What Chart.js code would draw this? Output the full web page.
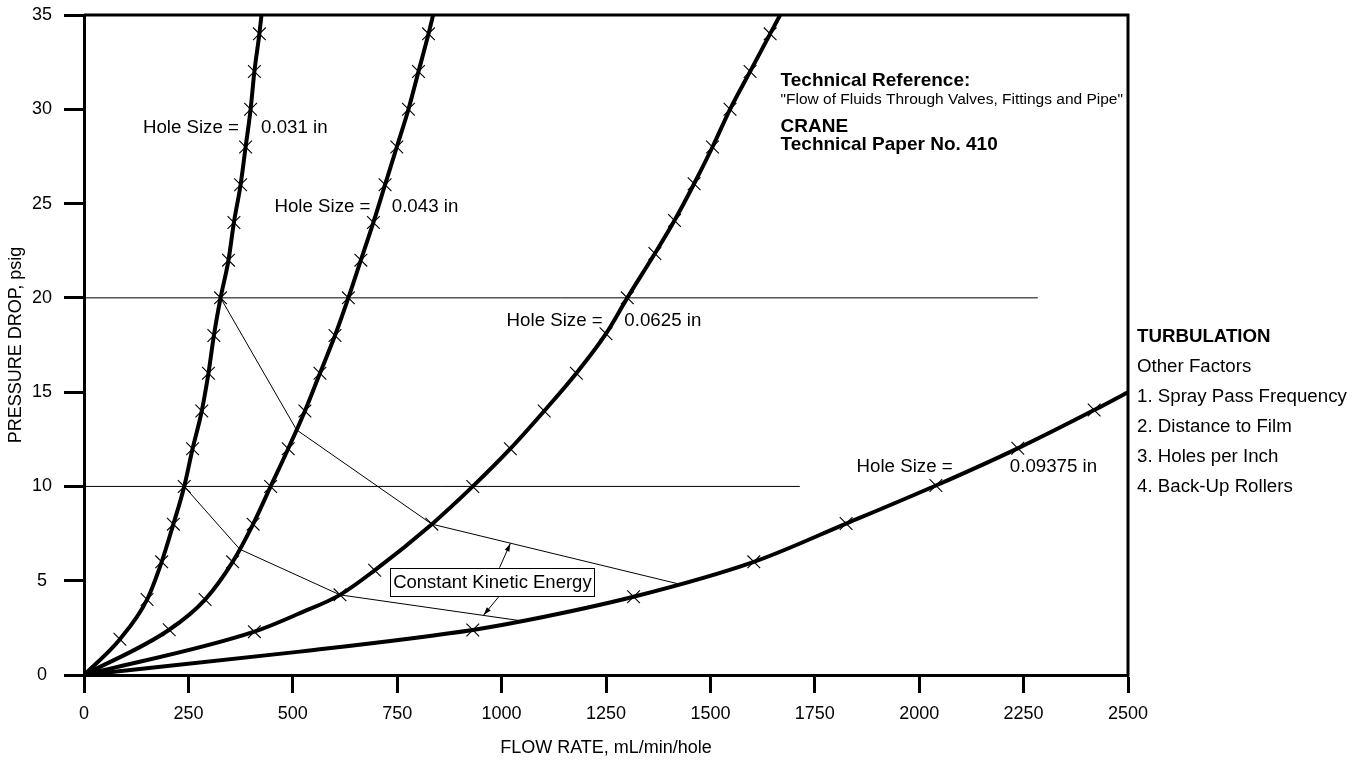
<!DOCTYPE html>
<html><head><meta charset="utf-8">
<script src="https://cdn.jsdelivr.net/npm/chart.js"></script>
<style>html,body{margin:0;padding:0;background:#fff;}canvas{display:block;}</style>
</head><body>
<canvas id="c" width="1364" height="761"></canvas>
<script>
// ---------- data ----------
const xTicks = [0, 250, 500, 750, 1000, 1250, 1500, 1750, 2000, 2250, 2500];
const yTicks = [0, 5, 10, 15, 20, 25, 30, 35];

// Hole size 0.031 in
const flow031 = [0, 86, 151, 186, 214, 240, 260, 282, 298, 311, 327, 346, 359, 375, 387, 399, 408, 420, 425];
const psi031  = [0, 1.9, 4, 6, 8, 10, 12, 14, 16, 18, 20, 22, 24, 26, 28, 30, 32, 34, 35];
const mark031 = [0, 1, 1, 1, 1, 1, 1, 1, 1, 1, 1, 1, 1, 1, 1, 1, 1, 1, 0];

// Hole size 0.043 in
const flow043 = [0, 204, 290, 356, 405, 447, 489, 529, 565, 601, 633, 663, 693, 721, 749, 777, 801, 825, 836];
const psi043  = [0, 2.4, 4, 6, 8, 10, 12, 14, 16, 18, 20, 22, 24, 26, 28, 30, 32, 34, 35];
const mark043 = [0, 1, 1, 1, 1, 1, 1, 1, 1, 1, 1, 1, 1, 1, 1, 1, 1, 1, 0];

// Hole size 0.0625 in
const flow0625 = [0, 408, 517, 613, 696, 833, 931, 1021, 1102, 1179, 1250, 1301, 1367, 1414, 1461, 1505, 1547, 1595, 1643, 1667];
const psi0625  = [0, 2.3, 3.28, 4.25, 5.55, 8, 10, 12, 14, 16, 18.1, 20, 22.35, 24.1, 26.05, 28, 30, 32, 34, 35];
const mark0625 = [0, 1, 0, 1, 1, 1, 1, 1, 1, 1, 1, 1, 1, 1, 1, 1, 1, 1, 1, 0];

// Hole size 0.09375 in
const flow09375 = [0, 517, 931, 1051, 1316, 1604, 1825, 2040, 2236, 2419, 2500];
const psi09375  = [0, 1.24, 2.39, 2.86, 4.15, 6.0, 8.03, 10.05, 12.02, 14.05, 15];
const mark09375 = [0, 0, 1, 0, 1, 1, 1, 1, 1, 1, 0];

// Constant kinetic energy lines
const kinAFlow = [327, 509, 833, 1420];
const kinAPsi  = [20, 13, 8, 4.85];
const kinBFlow = [240, 373, 613, 1051];
const kinBPsi  = [10, 6.67, 4.25, 2.86];

// Horizontal reference lines
const ref20Flow = [0, 2284];
const ref20Psi  = [20, 20];
const ref10Flow = [0, 1714];
const ref10Psi  = [10, 10];

// Texts
const holeSizes = ['0.031 in', '0.043 in', '0.0625 in', '0.09375 in'];
const refTexts = ['Technical Reference:', '"Flow of Fluids Through Valves, Fittings and Pipe"', 'CRANE', 'Technical Paper No. 410'];
const sideTexts = ['TURBULATION', 'Other Factors', '1. Spray Pass Frequency', '2. Distance to Film', '3. Holes per Inch', '4. Back-Up Rollers'];
const kineticLabel = 'Constant Kinetic Energy';

// ---------- layout of annotations (data coordinates) ----------
const holeLabelPos = [
  {x: 141, y: 29.0, x2: 424},
  {x: 456, y: 24.83, x2: 737},
  {x: 1012, y: 18.79, x2: 1294},
  {x: 1850, y: 11.05, x2: 2217}
];
const refPos = {x: 1668, y: [31.52, 30.49, 29.08, 28.1]};
const sideY = [17.92, 16.33, 14.74, 13.15, 11.56, 9.97];
const kinBox = {x: 978, y: 4.93};
const arrowUp = [995, 5.69, 1021, 6.98];
const arrowDown = [995, 4.2, 957, 3.18];

const FAM = '"Liberation Sans", Arial, Helvetica, sans-serif';

function pts(xs, ys) { return xs.map((v, i) => ({x: v, y: ys[i]})); }

function curve(xs, ys, marks) {
  return {
    data: pts(xs, ys),
    borderColor: '#000',
    borderWidth: 4,
    cubicInterpolationMode: 'monotone',
    pointStyle: 'crossRot',
    pointRadius: marks.map(m => m ? 9 : 0),
    pointHoverRadius: 0,
    pointBorderWidth: 1.1,
    pointBorderColor: '#000',
    pointBackgroundColor: 'rgba(0,0,0,0)',
    fill: false
  };
}
function thin(xs, ys) {
  return {
    data: pts(xs, ys),
    borderColor: '#000',
    borderWidth: 1,
    pointRadius: 0,
    tension: 0,
    fill: false
  };
}

const annot = {
  id: 'annot',
  afterDatasetsDraw(chart) {
    const {ctx, chartArea: ca, scales} = chart;
    const xs = scales.x, ys = scales.y;
    const px = v => xs.getPixelForValue(v), py = v => ys.getPixelForValue(v);
    ctx.save();
    // frame (top and right)
    ctx.strokeStyle = '#000';
    ctx.lineWidth = 3;
    ctx.beginPath();
    ctx.moveTo(ca.left, ca.top);
    ctx.lineTo(ca.right, ca.top);
    ctx.lineTo(ca.right, ca.bottom + 1.5);
    ctx.stroke();

    ctx.fillStyle = '#000';
    ctx.textBaseline = 'middle';
    ctx.textAlign = 'left';
    ctx.font = '18.7px ' + FAM;
    holeLabelPos.forEach((p, i) => {
      ctx.fillText('Hole Size =', px(p.x), py(p.y));
      ctx.fillText(holeSizes[i], px(p.x2), py(p.y));
    });

    // reference text
    const refFonts = ['bold 19px ', '15.5px ', 'bold 19px ', 'bold 19px '];
    refTexts.forEach((t, i) => {
      ctx.font = refFonts[i] + FAM;
      ctx.fillText(t, px(refPos.x), py(refPos.y[i]));
    });

    // side text
    sideTexts.forEach((t, i) => {
      ctx.font = (i === 0 ? 'bold 18.7px ' : '18.7px ') + FAM;
      ctx.fillText(t, ca.right + 9, py(sideY[i]));
    });

    // arrows
    function arrow(a) {
      const x0 = px(a[0]), y0 = py(a[1]), x1 = px(a[2]), y1 = py(a[3]);
      ctx.lineWidth = 1;
      ctx.beginPath(); ctx.moveTo(x0, y0); ctx.lineTo(x1, y1); ctx.stroke();
      const ang = Math.atan2(y1 - y0, x1 - x0), L = 8, W = 2.5;
      ctx.beginPath();
      ctx.moveTo(x1, y1);
      ctx.lineTo(x1 - L * Math.cos(ang) + W * Math.sin(ang), y1 - L * Math.sin(ang) - W * Math.cos(ang));
      ctx.lineTo(x1 - L * Math.cos(ang) - W * Math.sin(ang), y1 - L * Math.sin(ang) + W * Math.cos(ang));
      ctx.closePath(); ctx.fill();
    }
    arrow(arrowUp);
    arrow(arrowDown);

    // kinetic energy box
    ctx.font = '18.5px ' + FAM;
    const w = ctx.measureText(kineticLabel).width;
    const cx = px(kinBox.x), cy = py(kinBox.y);
    const bx = Math.round(cx - w / 2 - 3) + 0.5, by = Math.round(cy - 14) + 0.5;
    ctx.fillStyle = '#fff';
    ctx.fillRect(bx, by, Math.round(w + 6), 28);
    ctx.strokeStyle = '#000';
    ctx.lineWidth = 1;
    ctx.strokeRect(bx, by, Math.round(w + 6), 28);
    ctx.fillStyle = '#000';
    ctx.textAlign = 'center';
    ctx.fillText(kineticLabel, cx, cy + 1);
    ctx.restore();
  }
};

new Chart(document.getElementById('c'), {
  type: 'line',
  data: {
    datasets: [
      curve(flow031, psi031, mark031),
      curve(flow043, psi043, mark043),
      curve(flow0625, psi0625, mark0625),
      curve(flow09375, psi09375, mark09375),
      thin(kinAFlow, kinAPsi),
      thin(kinBFlow, kinBPsi),
      thin(ref20Flow, ref20Psi),
      thin(ref10Flow, ref10Psi)
    ]
  },
  options: {
    responsive: false,
    animation: false,
    devicePixelRatio: 1,
    layout: {padding: {left: 0, right: 236, top: 15, bottom: 0}},
    plugins: {legend: {display: false}, tooltip: {enabled: false}},
    events: [],
    scales: {
      x: {
        type: 'linear', min: 0, max: 2500,
        afterBuildTicks: s => { s.ticks = xTicks.map(v => ({value: v})); },
        afterFit: s => { s.height = 86; s.paddingLeft = 0; s.paddingRight = 0; },
        ticks: {color: '#000', font: {family: FAM, size: 18}, padding: 10, maxRotation: 0, autoSkip: false,
                callback: v => String(v)},
        grid: {drawOnChartArea: false, drawTicks: true, tickLength: 18, tickWidth: 3, tickColor: '#000'},
        border: {display: true, width: 3, color: '#000'},
        title: {display: true, text: 'FLOW RATE, mL/min/hole', color: '#000', font: {family: FAM, size: 18},
                padding: {top: 0, bottom: 2}}
      },
      y: {
        type: 'linear', min: 0, max: 35,
        afterBuildTicks: s => { s.ticks = yTicks.map(v => ({value: v})); },
        afterFit: s => { s.width = 84; s.paddingTop = 0; s.paddingBottom = 0; },
        ticks: {color: '#000', font: {family: FAM, size: 18}, padding: 12, crossAlign: 'center', autoSkip: false,
                callback: v => String(v)},
        grid: {drawOnChartArea: false, drawTicks: true, tickLength: 20, tickWidth: 3, tickColor: '#000'},
        border: {display: true, width: 3, color: '#000'},
        title: {display: true, text: 'PRESSURE DROP, psig', color: '#000', font: {family: FAM, size: 18},
                padding: {top: 5, bottom: 0}}
      }
    }
  },
  plugins: [annot]
});
</script>
</body></html>
